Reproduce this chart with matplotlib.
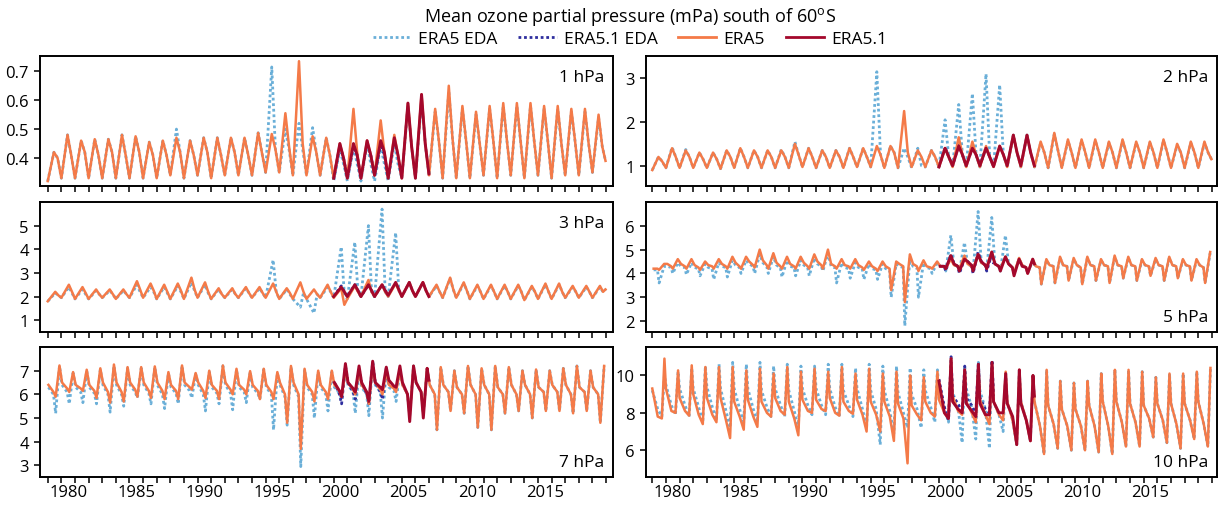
import numpy as np
import matplotlib.pyplot as plt
from matplotlib.lines import Line2D

plt.rcParams['font.family'] = ['Open Sans', 'DejaVu Sans']
plt.rcParams['mathtext.fontset'] = 'custom'
plt.rcParams['mathtext.rm'] = 'Open Sans'

# ---------------- data ----------------
START_ERA5 = 1979
START_ERA51 = 2000
T_END = 2019.96

# 1 hPa  (trough ~Jan, peak ~Jun, shoulder ~Sep)
p1_era5_trough = [0.32,0.33,0.33,0.33,0.33,0.33,0.33,0.33,0.33,0.34,0.33,0.34,0.33,0.34,0.34,0.34,0.35,0.35,0.34,0.34,0.34,
                  0.33,0.33,0.33,0.34,0.33,0.33,0.33,0.34,0.33,0.33,0.33,0.34,0.33,0.34,0.33,0.34,0.33,0.34,0.34,0.35,0.39]
p1_era5_peak = [0.42,0.48,0.46,0.465,0.465,0.48,0.475,0.455,0.46,0.47,0.46,0.47,0.47,0.47,0.47,0.487,0.483,0.555,0.735,0.475,0.47,
                0.45,0.57,0.46,0.53,0.48,0.59,0.62,0.57,0.65,0.58,0.56,0.58,0.59,0.59,0.59,0.58,0.58,0.57,0.57,0.55]
p1_era5_shoulder = [0.40,0.41,0.42,0.41,0.42,0.41,0.42,0.41,0.41,0.42,0.41,0.42,0.41,0.42,0.41,0.42,0.43,0.44,0.45,0.42,0.41,
                    0.40,0.42,0.41,0.42,0.41,0.44,0.45,0.46,0.47,0.46,0.45,0.46,0.46,0.46,0.46,0.46,0.45,0.46,0.45,0.44]
p1_eda_trough = [0.32,0.33,0.33,0.33,0.33,0.33,0.33,0.33,0.33,0.34,0.33,0.34,0.33,0.34,0.34,0.34,0.35,0.35,0.34,0.34,0.34,
                 0.32,0.32,0.32,0.32,0.32,0.33,0.33,0.34,0.33,0.33,0.33,0.34,0.33,0.34,0.33,0.34,0.33,0.34,0.34,0.35,0.39]
p1_eda_peak = [0.42,0.48,0.46,0.465,0.465,0.48,0.475,0.455,0.46,0.50,0.46,0.47,0.47,0.47,0.47,0.487,0.715,0.50,0.52,0.505,0.47,
               0.43,0.44,0.45,0.44,0.45,0.58,0.60,0.56,0.63,0.57,0.55,0.57,0.58,0.58,0.58,0.57,0.57,0.56,0.56,0.54]
p1_eda_shoulder = [0.40,0.41,0.42,0.41,0.42,0.41,0.42,0.41,0.41,0.42,0.41,0.42,0.41,0.42,0.41,0.42,0.43,0.43,0.43,0.42,0.41,
                   0.38,0.38,0.38,0.38,0.38,0.44,0.45,0.46,0.47,0.46,0.45,0.46,0.46,0.46,0.46,0.46,0.45,0.46,0.45,0.44]
p1_era51_trough = [0.33,0.33,0.33,0.34,0.33,0.33,0.33,0.345]
p1_era51_peak = [0.45,0.45,0.46,0.46,0.47,0.59,0.62]
p1_era51_shoulder = [0.40,0.41,0.41,0.42,0.41,0.44,0.45]
p1_era51eda_trough = [0.33,0.33,0.33,0.34,0.33]
p1_era51eda_peak = [0.44,0.44,0.45,0.45]
p1_era51eda_shoulder = [0.40,0.41,0.41,0.41]

# 2 hPa
p2_era5_trough = [0.9,0.95,0.95,0.95,0.95,0.93,0.95,0.95,0.95,0.95,0.95,0.97,0.95,0.95,0.95,0.97,0.97,0.95,0.95,0.97,0.97,
                  0.97,0.97,0.97,0.97,0.97,0.97,0.97,0.97,0.95,0.95,0.95,0.95,0.95,0.95,0.95,0.95,0.95,0.95,0.95,0.95,1.15]
p2_era5_peak = [1.2,1.4,1.35,1.3,1.3,1.35,1.4,1.35,1.35,1.35,1.5,1.4,1.35,1.35,1.4,1.4,1.45,1.45,2.25,1.35,1.35,
                1.4,1.65,1.55,1.45,1.45,1.7,1.7,1.55,1.75,1.6,1.6,1.6,1.55,1.6,1.55,1.55,1.6,1.5,1.55,1.55]
p2_era5_shoulder = [1.1,1.2,1.2,1.15,1.15,1.2,1.2,1.2,1.2,1.2,1.25,1.2,1.2,1.2,1.2,1.2,1.25,1.3,1.3,1.2,1.2,
                    1.2,1.25,1.25,1.2,1.25,1.3,1.3,1.3,1.35,1.3,1.3,1.3,1.3,1.3,1.3,1.3,1.3,1.3,1.3,1.3]
p2_eda_trough = [0.9,0.95,0.95,0.95,0.95,0.93,0.95,0.95,0.95,0.95,0.95,0.97,0.95,0.95,0.95,0.97,0.97,0.95,0.95,0.95,0.97,
                 0.97,0.97,0.97,0.97,0.97,0.97,0.97,0.97,0.95,0.95,0.95,0.95,0.95,0.95,0.95,0.95,0.95,0.95,0.95,0.95,1.15]
p2_eda_peak = [1.2,1.42,1.37,1.3,1.3,1.35,1.4,1.35,1.35,1.37,1.55,1.4,1.35,1.35,1.4,1.4,3.15,1.45,1.4,1.4,1.35,
               2.05,2.4,2.65,3.1,2.85,1.7,1.7,1.52,1.72,1.57,1.57,1.57,1.52,1.57,1.52,1.52,1.57,1.47,1.52,1.52]
p2_eda_shoulder = [1.1,1.2,1.2,1.15,1.15,1.2,1.2,1.2,1.2,1.2,1.25,1.2,1.2,1.2,1.2,1.2,1.25,1.3,1.2,1.0,1.2,
                   1.2,1.25,1.25,1.2,1.25,1.3,1.3,1.3,1.35,1.3,1.3,1.3,1.3,1.3,1.3,1.3,1.3,1.3,1.3,1.3]
p2_era51_trough = [0.97,1.0,1.0,1.0,0.98,1.0,1.0,1.0]
p2_era51_peak = [1.4,1.45,1.4,1.4,1.45,1.7,1.7]
p2_era51_shoulder = [1.2,1.25,1.25,1.2,1.25,1.3,1.3]
p2_era51eda_trough = [0.97,1.0,1.0,1.0,1.0]
p2_era51eda_peak = [1.42,1.47,1.42,1.42]
p2_era51eda_shoulder = [1.2,1.25,1.25,1.2]

# 3 hPa
p3_era5_trough = [1.8,1.95,1.9,1.9,1.95,1.9,1.95,1.95,1.9,1.9,1.9,1.95,1.9,1.95,1.95,1.95,1.95,1.9,1.9,1.9,1.95,
                  1.95,1.9,2.0,2.0,2.0,2.0,2.0,2.0,1.95,1.95,1.9,1.9,1.9,1.9,1.85,1.9,1.9,1.95,1.95,1.95,2.3]
p3_era5_peak = [2.2,2.5,2.4,2.3,2.3,2.3,2.65,2.55,2.5,2.55,2.8,2.6,2.35,2.35,2.4,2.4,2.55,2.35,2.6,2.3,2.5,
                2.35,2.45,2.7,2.5,2.55,2.6,2.6,2.5,2.8,2.6,2.5,2.5,2.5,2.5,2.45,2.55,2.55,2.45,2.45,2.45]
p3_era5_shoulder = [2.05,2.2,2.15,2.1,2.1,2.1,2.3,2.25,2.2,2.25,2.3,2.2,2.1,2.1,2.15,2.15,2.2,2.15,2.2,2.1,2.2,
                    1.65,2.2,2.2,2.2,2.25,2.25,2.25,2.2,2.3,2.25,2.2,2.2,2.2,2.2,2.2,2.2,2.2,2.2,2.2,2.2]
p3_eda_trough = [1.8,1.95,1.9,1.9,1.95,1.9,1.95,1.95,1.9,1.9,1.9,1.95,1.9,1.95,1.95,1.95,1.95,1.9,1.9,1.9,1.95,
                 1.95,1.9,2.0,2.0,2.0,2.0,2.0,2.0,1.95,1.95,1.9,1.9,1.9,1.9,1.85,1.9,1.9,1.95,1.95,1.95,2.3]
p3_eda_peak = [2.15,2.4,2.3,2.25,2.25,2.25,2.5,2.4,2.4,2.45,2.6,2.5,2.3,2.3,2.35,2.35,3.55,2.3,1.55,1.3,2.4,
               4.1,4.3,5.0,5.7,4.7,2.6,2.6,2.45,2.75,2.55,2.45,2.45,2.45,2.45,2.4,2.5,2.5,2.4,2.4,2.4]
p3_eda_shoulder = [2.05,2.15,2.1,2.1,2.1,2.1,2.2,2.2,2.15,2.2,2.25,2.15,2.1,2.1,2.15,2.15,2.2,2.1,2.15,2.1,2.2,
                   2.1,2.2,2.2,2.2,2.25,2.25,2.25,2.2,2.3,2.25,2.2,2.2,2.2,2.2,2.2,2.2,2.2,2.2,2.2,2.2]
p3_era51_trough = [2.0,2.0,2.0,2.0,2.05,2.0,2.0,2.0]
p3_era51_peak = [2.4,2.5,2.5,2.5,2.6,2.6,2.6]
p3_era51_shoulder = [2.2,2.25,2.25,2.25,2.3,2.25,2.25]
p3_era51eda_trough = [2.0,2.0,2.0,2.0,2.05]
p3_era51eda_peak = [2.45,2.5,2.5,2.5]
p3_era51eda_shoulder = [2.2,2.25,2.25,2.25]

# 5 hPa  (early ~Feb, mid ~May, trough ~Jul, peak ~Nov)
p4_era5_early = [4.2,4.4,4.4,4.35,4.35,4.4,4.45,4.5,4.55,4.45,4.4,4.45,4.5,4.4,4.35,4.35,4.3,4.3,4.4,4.4,4.3,
                 4.3,4.35,4.4,4.45,4.4,4.4,4.35,4.3,4.35,4.35,4.35,4.35,4.35,4.35,4.35,4.35,4.35,4.35,4.35,4.35]
p4_era5_mid = [4.2,4.3,4.3,4.25,4.3,4.3,4.3,4.35,4.35,4.3,4.3,4.3,4.35,4.3,4.3,4.25,4.2,4.2,4.3,4.3,4.25,
               4.3,4.3,4.3,4.35,4.3,4.25,4.25,4.25,4.3,4.3,4.25,4.3,4.3,4.3,4.3,4.3,4.3,4.3,4.3,4.25]
p4_era5_trough = [4.15,4.2,4.2,4.15,4.2,4.2,4.2,4.25,4.2,4.2,4.2,4.2,4.2,4.2,4.2,4.15,4.1,3.3,2.8,4.1,4.2,
                  4.2,4.2,4.2,4.3,4.2,4.0,4.0,3.55,3.6,3.7,3.55,3.7,3.6,3.8,3.7,3.9,3.7,3.8,3.7,3.6]
p4_era5_peak = [4.4,4.6,4.6,4.5,4.6,4.7,4.7,5.0,4.85,4.7,4.7,4.8,5.0,4.6,4.6,4.5,4.5,4.5,4.8,4.55,4.5,
                4.6,4.75,4.8,4.9,4.7,4.65,4.6,4.6,4.7,4.65,4.7,4.6,4.75,4.7,4.6,4.65,4.7,4.6,4.6,4.9]
p4_eda_early = [4.15,4.3,4.3,4.25,4.25,4.3,4.35,4.4,4.45,4.35,4.3,4.35,4.4,4.3,4.25,4.25,4.2,4.2,4.3,4.3,4.25,
                4.3,4.35,4.4,4.45,4.4,4.4,4.35,4.3,4.35,4.35,4.35,4.35,4.35,4.35,4.35,4.35,4.35,4.35,4.35,4.35]
p4_eda_mid = [4.15,4.25,4.25,4.2,4.2,4.25,4.25,4.3,4.3,4.25,4.25,4.25,4.3,4.25,4.2,4.2,4.15,4.15,4.25,4.25,4.2,
              4.3,4.3,4.3,4.35,4.3,4.25,4.25,4.25,4.3,4.3,4.25,4.3,4.3,4.3,4.3,4.3,4.3,4.3,4.3,4.25]
p4_eda_trough = [3.6,4.0,3.95,3.9,3.75,3.85,4.0,4.0,4.0,3.85,3.9,3.9,4.1,3.6,3.8,3.75,3.75,3.0,1.8,3.0,4.0,
                 4.1,4.1,4.1,4.2,4.1,4.0,4.0,3.55,3.6,3.7,3.55,3.7,3.6,3.8,3.7,3.9,3.7,3.8,3.7,3.6]
p4_eda_peak = [4.3,4.45,4.45,4.4,4.45,4.55,4.55,4.8,4.7,4.55,4.55,4.65,4.85,4.45,4.45,4.4,4.4,4.4,4.6,4.45,4.45,
               5.6,5.3,6.6,6.35,5.6,4.6,4.55,4.55,4.65,4.6,4.65,4.55,4.7,4.65,4.55,4.6,4.65,4.55,4.55,4.85]
p4_era51_early = [4.3,4.4,4.5,4.5,4.4,4.4,4.3,4.4]
p4_era51_mid = [4.3,4.3,4.35,4.35,4.3,4.25,4.25]
p4_era51_trough = [4.2,4.1,4.1,4.2,4.1,3.9,4.0]
p4_era51_peak = [4.75,4.6,4.8,4.9,4.7,4.6,4.6]
p4_era51eda_early = [4.3,4.4,4.5,4.5,4.4]
p4_era51eda_mid = [4.3,4.3,4.35,4.35]
p4_era51eda_trough = [4.1,4.0,4.0,4.1]
p4_era51eda_peak = [4.8,4.6,4.9,4.8]

# 7 hPa  (early ~Jan, mid ~May, trough ~Aug, peak ~Nov)
p5_era5_early = [6.4,6.5,6.4,6.4,6.5,6.5,6.5,6.5,6.5,6.4,6.5,6.5,6.4,6.5,6.4,6.4,6.4,6.5,6.5,6.4,6.4,
                 6.4,6.5,6.4,6.5,6.4,6.4,6.5,6.4,6.4,6.3,6.4,6.4,6.3,6.4,6.4,6.3,6.4,6.4,6.3,6.3]
p5_era5_mid = [6.1,6.25,6.25,6.15,6.1,6.1,6.2,6.15,6.15,6.15,6.3,6.15,6.15,6.2,6.2,6.15,6.1,6.0,6.0,6.1,6.1,
               6.15,6.2,6.1,6.2,6.25,6.0,6.1,6.0,6.1,6.0,6.0,6.0,6.0,6.0,6.0,6.1,6.1,6.0,6.1,6.0]
p5_era5_trough = [5.9,6.1,6.15,5.85,5.65,5.7,5.9,5.85,5.8,5.8,6.2,5.85,5.8,6.0,6.0,5.8,5.8,4.8,3.7,5.7,5.8,
                  5.9,6.0,5.6,6.0,6.1,5.1,5.2,4.5,5.3,5.2,4.6,4.5,5.2,5.3,5.0,5.3,5.3,5.2,5.3,4.8]
p5_era5_peak = [7.22,6.94,7.04,7.1,7.26,7.15,7.15,7.18,6.94,7.22,6.9,7.0,7.22,7.08,6.98,7.08,6.94,7.2,7.08,7.0,7.0,
                7.0,7.0,7.2,7.0,7.0,7.2,7.1,7.15,7.0,7.2,7.1,7.2,7.15,7.0,7.05,7.0,7.1,7.2,7.0,7.2]
p5_eda_early = [6.3,6.4,6.3,6.3,6.4,6.4,6.4,6.4,6.4,6.3,6.4,6.4,6.3,6.4,6.3,6.3,6.3,6.4,6.4,6.3,6.3,
                6.3,6.4,6.3,6.4,6.3,6.4,6.5,6.4,6.4,6.3,6.4,6.4,6.3,6.4,6.4,6.3,6.4,6.4,6.3,6.3]
p5_eda_mid = [6.0,6.1,6.1,6.05,6.0,6.0,6.1,6.05,6.0,6.05,6.15,6.0,6.05,6.05,6.1,6.05,6.0,5.9,5.9,6.0,6.0,
              6.05,6.1,6.0,6.1,6.15,6.0,6.1,6.0,6.1,6.0,6.0,6.0,6.0,6.0,6.0,6.1,6.1,6.0,6.1,6.0]
p5_eda_trough = [5.2,5.6,5.65,5.6,5.25,5.5,5.85,5.6,5.4,5.6,5.85,5.3,5.6,5.35,5.65,5.8,4.5,4.7,2.95,5.0,5.3,
                 5.8,5.2,5.1,5.0,5.7,5.1,5.2,4.5,5.3,5.2,4.6,4.5,5.2,5.3,5.0,5.3,5.3,5.2,5.3,4.8]
p5_eda_peak = [7.2,6.9,7.0,7.05,7.2,7.1,7.1,7.15,6.9,7.2,6.85,6.95,7.2,7.05,6.95,7.05,6.9,7.15,7.05,6.95,6.95,
               7.0,7.0,7.4,7.0,7.0,7.2,7.1,7.15,7.0,7.2,7.1,7.2,7.15,7.0,7.05,7.0,7.1,7.2,7.0,7.2]
p5_era51_early = [6.5,6.5,6.5,6.5,6.6,6.5,6.5,6.6]
p5_era51_mid = [6.15,6.25,6.1,6.3,6.35,6.0,6.1]
p5_era51_trough = [5.9,6.1,5.7,6.2,6.3,4.85,5.0]
p5_era51_peak = [7.3,7.2,7.4,7.15,7.2,7.2,7.1]
p5_era51eda_early = [6.5,6.5,6.5,6.5,6.5]
p5_era51eda_mid = [6.0,6.1,6.0,6.1]
p5_era51eda_trough = [5.6,5.8,5.6,5.8]
p5_era51eda_peak = [7.2,7.1,7.35,7.1]

# 10 hPa (early ~Jan, mid ~May, trough ~Sep, peak ~Nov)
p6_era5_early = [9.3,9.3,8.8,9.0,8.8,8.8,8.6,8.7,8.6,8.8,8.6,8.7,8.7,8.8,8.6,8.7,8.6,8.6,8.5,8.4,8.6,
                 8.7,8.9,8.6,8.7,8.6,8.6,8.6,8.6,8.4,8.2,8.2,8.4,8.6,8.6,8.5,8.4,8.5,8.5,8.5,8.6]
p6_era5_mid = [7.8,8.1,8.1,7.9,7.9,7.6,7.8,7.8,8.0,8.1,7.7,8.1,8.2,8.0,8.1,7.9,7.9,7.8,7.7,7.9,8.0,
               8.0,8.1,8.0,7.9,7.9,7.6,7.6,7.3,7.4,7.3,7.3,7.3,7.3,7.5,7.5,7.7,7.6,7.4,7.6,7.4]
p6_era5_trough = [7.7,8.0,7.85,7.4,7.5,6.65,7.1,7.25,7.8,7.9,6.8,8.0,8.1,7.85,7.95,7.0,7.0,6.5,5.3,7.6,7.8,
                  7.7,7.9,7.5,7.4,7.6,6.3,6.5,5.8,6.1,6.0,6.0,5.9,5.8,6.2,6.2,6.7,6.4,6.1,6.6,6.2]
p6_era5_peak = [10.9,10.27,10.54,10.45,10.45,10.45,10.27,10.36,10.1,10.45,10.2,10.36,10.2,10.45,10.1,10.36,10.1,10.2,10.0,9.9,10.2,
                10.9,10.3,10.5,10.6,10.2,10.3,10.0,10.3,9.7,9.6,9.7,10.1,10.3,10.3,10.2,9.9,10.1,10.1,10.2,10.4]
p6_eda_early = [9.2,9.5,9.3,9.3,9.4,9.3,9.3,9.3,9.2,9.3,9.2,9.3,9.3,9.3,9.2,9.3,9.2,9.2,9.1,9.0,9.2,
                9.2,9.1,9.3,9.2,8.6,8.6,8.6,8.6,8.4,8.2,8.2,8.4,8.6,8.6,8.5,8.4,8.5,8.5,8.5,8.6]
p6_eda_mid = [8.2,8.4,8.4,8.3,8.3,8.1,8.2,8.2,8.3,8.4,8.1,8.4,8.4,8.3,8.4,8.2,8.2,8.1,8.0,8.2,8.3,
              8.3,8.3,8.3,8.2,7.9,7.6,7.6,7.3,7.4,7.3,7.3,7.3,7.3,7.5,7.5,7.7,7.6,7.4,7.6,7.4]
p6_eda_trough = [7.8,7.9,7.8,7.5,7.6,7.2,7.5,7.5,7.8,7.8,7.2,7.9,7.9,7.8,7.8,7.2,6.3,6.9,7.2,7.2,7.5,
                 7.5,6.4,6.6,6.1,7.0,6.3,6.5,5.8,6.1,6.0,6.0,5.9,5.8,6.2,6.2,6.7,6.4,6.1,6.6,6.2]
p6_eda_peak = [10.0,10.2,10.4,10.5,10.6,10.7,10.6,10.7,10.5,10.6,10.5,10.5,10.6,10.6,10.4,10.6,10.5,10.5,10.4,10.3,10.3,
               10.6,10.4,10.7,10.7,10.2,10.3,10.0,10.3,9.7,9.6,9.7,10.1,10.3,10.3,10.2,9.9,10.1,10.1,10.2,10.4]
p6_era51_early = [9.7,8.6,8.5,8.5,8.6,8.5,8.5,8.9]
p6_era51_mid = [8.0,8.2,8.1,7.9,8.0,7.8,7.6]
p6_era51_trough = [7.7,8.0,7.8,7.9,8.0,6.3,6.5]
p6_era51_peak = [10.9,10.3,10.6,10.7,10.1,10.3,10.0]
p6_era51eda_early = [9.8,8.9,8.8,8.8,8.9]
p6_era51eda_mid = [8.3,8.5,8.4,8.2]
p6_era51eda_trough = [7.6,8.0,7.9,8.0]
p6_era51eda_peak = [11.0,10.5,10.7,10.8]

# ---------------- structure ----------------
PH_1 = (0.0, 0.45, 0.72)          # trough, peak, shoulder
PH_3 = (0.0, 0.55, 0.78)
PH_5 = (0.1, 0.38, 0.5, 0.87)     # early, mid, trough, peak
PH_7 = (0.05, 0.42, 0.58, 0.86)   # early, mid, trough, peak
PH_10 = (0.0, 0.4, 0.7, 0.89)     # early, mid, trough, peak

panels = [
    dict(label='1 hPa', top=True, ylim=(0.303, 0.753), yt=[0.4, 0.5, 0.6, 0.7], ph=PH_1,
         era5=(p1_era5_trough, p1_era5_peak, p1_era5_shoulder), eda=(p1_eda_trough, p1_eda_peak, p1_eda_shoulder),
         era51=(p1_era51_trough, p1_era51_peak, p1_era51_shoulder), era51eda=(p1_era51eda_trough, p1_era51eda_peak, p1_era51eda_shoulder)),
    dict(label='2 hPa', top=True, ylim=(0.535, 3.51), yt=[1, 2, 3], ph=PH_1,
         era5=(p2_era5_trough, p2_era5_peak, p2_era5_shoulder), eda=(p2_eda_trough, p2_eda_peak, p2_eda_shoulder),
         era51=(p2_era51_trough, p2_era51_peak, p2_era51_shoulder), era51eda=(p2_era51eda_trough, p2_era51eda_peak, p2_era51eda_shoulder)),
    dict(label='3 hPa', top=True, ylim=(0.5, 6.0), yt=[1, 2, 3, 4, 5], ph=PH_3,
         era5=(p3_era5_trough, p3_era5_peak, p3_era5_shoulder), eda=(p3_eda_trough, p3_eda_peak, p3_eda_shoulder),
         era51=(p3_era51_trough, p3_era51_peak, p3_era51_shoulder), era51eda=(p3_era51eda_trough, p3_era51eda_peak, p3_era51eda_shoulder)),
    dict(label='5 hPa', top=False, ylim=(1.54, 7.0), yt=[2, 3, 4, 5, 6], ph=PH_5,
         era5=(p4_era5_early, p4_era5_mid, p4_era5_trough, p4_era5_peak),
         eda=(p4_eda_early, p4_eda_mid, p4_eda_trough, p4_eda_peak),
         era51=(p4_era51_early, p4_era51_mid, p4_era51_trough, p4_era51_peak),
         era51eda=(p4_era51eda_early, p4_era51eda_mid, p4_era51eda_trough, p4_era51eda_peak)),
    dict(label='7 hPa', top=False, ylim=(2.51, 8.0), yt=[3, 4, 5, 6, 7], ph=PH_7,
         era5=(p5_era5_early, p5_era5_mid, p5_era5_trough, p5_era5_peak),
         eda=(p5_eda_early, p5_eda_mid, p5_eda_trough, p5_eda_peak),
         era51=(p5_era51_early, p5_era51_mid, p5_era51_trough, p5_era51_peak),
         era51eda=(p5_era51eda_early, p5_era51eda_mid, p5_era51eda_trough, p5_era51eda_peak)),
    dict(label='10 hPa', top=False, ylim=(4.57, 11.52), yt=[6, 8, 10], ph=PH_10,
         era5=(p6_era5_early, p6_era5_mid, p6_era5_trough, p6_era5_peak),
         eda=(p6_eda_early, p6_eda_mid, p6_eda_trough, p6_eda_peak),
         era51=(p6_era51_early, p6_era51_mid, p6_era51_trough, p6_era51_peak),
         era51eda=(p6_era51eda_early, p6_era51eda_mid, p6_era51eda_trough, p6_era51eda_peak)),
]
# panel pixel origins (left, top) in the 1219x506 canvas
positions = [(40, 57), (646, 57), (40, 203), (646, 203), (40, 348), (646, 348)]

C_ERA5 = '#F47A48'
C_ERA51 = '#A4082C'
C_EDA = '#6AAFD8'
C_EDA51 = '#2E2E9E'


def build(y0, phases, arrays, t_end=None):
    t, v = [], []
    for ph, arr in zip(phases, arrays):
        for i, val in enumerate(arr):
            t.append(y0 + i + ph)
            v.append(val)
    t = np.array(t)
    v = np.array(v)
    idx = np.argsort(t, kind='stable')
    t, v = t[idx], v[idx]
    if t_end is not None:
        t = np.minimum(t, t_end)
    return t, v


W, H = 1219, 506
fig = plt.figure(figsize=(W / 100, H / 100), dpi=100)
TICK_FS = 12

for k, p in enumerate(panels):
    x0, y0 = positions[k]
    w = 573 if x0 < 300 else 571
    ax = fig.add_axes([x0 / W, (H - y0 - 130) / H, w / W, 130 / H])
    if x0 < 300:
        ax.set_xlim(1978.43, 2020.51)
    else:
        ax.set_xlim(1978.54, 2020.37)
    ax.set_ylim(*p['ylim'])

    ph = p['ph']
    t, v = build(START_ERA5, ph, p['eda'], T_END)
    ax.plot(t, v, color=C_EDA, lw=2.0, ls=(0, (1, 1)), zorder=2)
    t, v = build(START_ERA51, ph, p['era51eda'], 2004.0)
    ax.plot(t, v, color=C_EDA51, lw=2.0, ls=(0, (1, 1)), zorder=3)
    t, v = build(START_ERA5, ph, p['era5'], T_END)
    ax.plot(t, v, color=C_ERA5, lw=1.8, zorder=4)
    t, v = build(START_ERA51, ph, p['era51'], 2006.99)
    ax.plot(t, v, color=C_ERA51, lw=2.1, zorder=5)

    ax.set_yticks(p['yt'])
    ax.set_yticklabels([('%g' % y) for y in p['yt']])
    ax.set_xticks(np.arange(1979, 2021))
    ax.set_xticklabels([])
    ax.set_xticks(np.arange(1980, 2016, 5) + 0.5, minor=True)
    if y0 > 300:
        ax.set_xticklabels([str(y) for y in range(1980, 2016, 5)], minor=True)
    else:
        ax.set_xticklabels([], minor=True)
    ax.tick_params(axis='x', which='major', direction='out', length=4, width=1.1)
    ax.tick_params(axis='x', which='minor', length=0, pad=5, labelsize=TICK_FS)
    ax.tick_params(axis='y', direction='out', length=4, width=1.1, labelsize=TICK_FS, pad=4)
    ax.tick_params(top=False, right=False)
    for s in ax.spines.values():
        s.set_linewidth(1.4)

    if p['top']:
        ax.text(1 - 9 / w, 1 - 25 / 130, p['label'], transform=ax.transAxes,
                ha='right', va='baseline', fontsize=12.5)
    else:
        ax.text(1 - 9 / w, 10.5 / 130, p['label'], transform=ax.transAxes,
                ha='right', va='baseline', fontsize=12.5)

fig.text(630 / W, 1 - 17 / H, r'Mean ozone partial pressure (mPa) south of 60$^{\mathrm{o}}$S',
         ha='center', va='center', fontsize=13)
handles = [
    Line2D([], [], color=C_EDA, lw=2.0, ls=(0, (1, 1))),
    Line2D([], [], color=C_EDA51, lw=2.0, ls=(0, (1, 1))),
    Line2D([], [], color=C_ERA5, lw=2.0),
    Line2D([], [], color=C_ERA51, lw=2.0),
]
fig.legend(handles, ['ERA5 EDA', 'ERA5.1 EDA', 'ERA5', 'ERA5.1'], loc='center',
           bbox_to_anchor=(630 / W, 1 - 40 / H), ncol=4, frameon=False, fontsize=12.5,
           handlelength=2.2, handletextpad=0.4, columnspacing=1.2, borderpad=0)

fig.savefig('out.png', dpi=100)
